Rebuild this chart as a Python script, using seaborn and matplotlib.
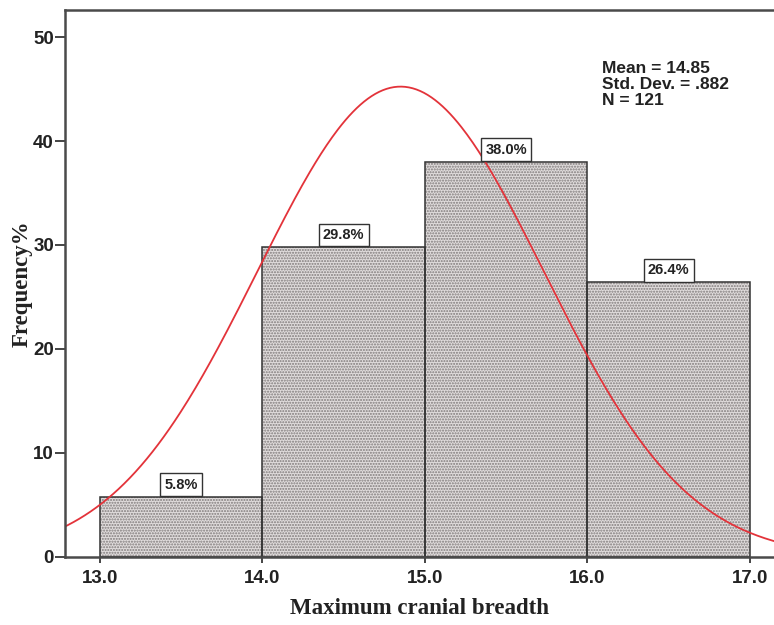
import numpy as np
import pandas as pd
import matplotlib
matplotlib.use("Agg")
import matplotlib.pyplot as plt
import seaborn as sns

# Data
bin_edges = [13.0, 14.0, 15.0, 16.0, 17.0]
bin_centers = [13.5, 14.5, 15.5, 16.5]
percents = [5.8, 29.8, 38.0, 26.4]
bar_labels = ["5.8%", "29.8%", "38.0%", "26.4%"]
mean_val = 14.85
sd_val = 0.882
n_val = 121
x_ticks = [13.0, 14.0, 15.0, 16.0, 17.0]
y_ticks = [0, 10, 20, 30, 40, 50]

sns.set_theme(style="white")
plt.rcParams["font.family"] = ["Liberation Sans", "DejaVu Sans"]
plt.rcParams["hatch.linewidth"] = 1.0

fig = plt.figure(figsize=(7.74, 6.25), dpi=100)
ax = fig.add_axes([0.084, 0.109, 0.916, 0.875])

df = pd.DataFrame({"x": bin_centers, "w": percents})
# dotted fill layer
sns.histplot(data=df, x="x", weights="w", bins=bin_edges, ax=ax,
             stat="count", color="#e0dcdc", linewidth=0, alpha=1.0)
for p in ax.patches:
    p.set_hatch("......")
    p.set_facecolor("#e0dcdc")
    p.set_edgecolor("#7f7a7a")
    p.set_linewidth(0)
fill_container = ax.containers[0]
# outline layer
sns.histplot(data=df, x="x", weights="w", bins=bin_edges, ax=ax,
             stat="count", fill=False, element="bars",
             color="#333333", edgecolor="#333333", linewidth=1.1)
for p in ax.containers[-1]:
    p.set_edgecolor("#333333")

# Fitted normal curve (SPSS-style, scaled to percent per unit bin)
xs = np.linspace(12.7, 17.3, 400)
ys = 100.0 / (sd_val * np.sqrt(2 * np.pi)) * np.exp(-0.5 * ((xs - mean_val) / sd_val) ** 2)
sns.lineplot(x=xs, y=ys, ax=ax, color="#e3333a", linewidth=1.3)

lab_fs = 10.5
lab_pad = 0.3
ax.bar_label(fill_container, labels=bar_labels, padding=lab_pad * lab_fs + 0.5,
             fontsize=lab_fs, fontweight="bold", color="#222222",
             bbox=dict(boxstyle=f"square,pad={lab_pad}", facecolor="white",
                       edgecolor="#333333", linewidth=1.0))

ax.text(0.757, 0.907, f"Mean = {mean_val:.2f}\nStd. Dev. = .882\nN = {n_val}",
        transform=ax.transAxes, fontsize=12.5, fontweight="bold",
        color="#222222", va="top", ha="left", linespacing=1.1)

ax.set_xlim(12.785, 17.148)
ax.set_ylim(0, 52.6)
ax.set_xticks(x_ticks)
ax.set_xticklabels([f"{t:.1f}" for t in x_ticks])
ax.set_yticks(y_ticks)
ax.tick_params(axis="both", which="major", direction="out",
               width=1.4, color="#444444", labelsize=13.5, labelcolor="#222222",
               bottom=True, left=True)
ax.tick_params(axis="x", length=4.5, pad=5)
ax.tick_params(axis="y", length=7, pad=1)
for lab in ax.get_xticklabels() + ax.get_yticklabels():
    lab.set_fontweight("bold")

for side in ["left", "top", "bottom"]:
    ax.spines[side].set_visible(True)
    ax.spines[side].set_color("#4a4a4a")
    ax.spines[side].set_linewidth(1.8)
ax.spines["right"].set_visible(False)

ax.set_xlabel("Maximum cranial breadth", fontsize=16.5, fontweight="bold",
              family="Liberation Serif", color="#222222", labelpad=8)
ax.set_ylabel("Frequency%", fontsize=16.5, fontweight="bold",
              family="Liberation Serif", color="#222222", labelpad=0)

fig.savefig("out.png", dpi=100)
